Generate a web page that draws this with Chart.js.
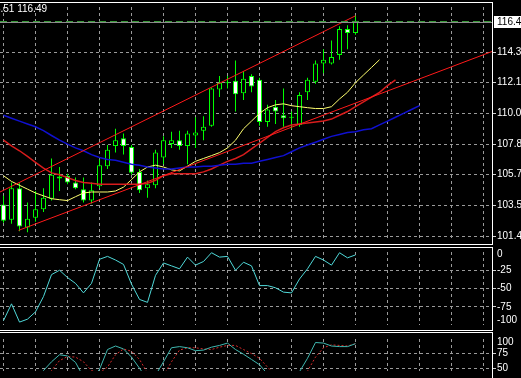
<!DOCTYPE html>
<html>
<head>
<meta charset="utf-8">
<script src="https://cdn.jsdelivr.net/npm/chart.js@4.4.1/dist/chart.umd.min.js"></script>
<style>
    html, body { margin: 0; padding: 0; background: #000; overflow: hidden; }
    #wrap { position: relative; width: 521px; height: 378px; background: #000; }
    canvas { position: absolute; left: 0; display: block; }
</style>
</head>
<body>
<div id="wrap">
    <canvas id="chart-price" width="521" height="245" style="top:0"></canvas>
    <canvas id="chart-wpr" width="521" height="87" style="top:245px"></canvas>
    <canvas id="chart-stoch" width="521" height="46" style="top:332px"></canvas>
</div>
<script>
// H4 candles, oldest first
const opens = [103.62, 102.54, 104.76, 102.00, 102.68, 103.28, 104.02, 105.43, 105.63, 105.16,
    104.69, 103.89, 104.89, 106.30, 107.72, 108.25, 107.65, 105.90, 104.76, 104.96,
    106.91, 107.85, 108.12, 107.72, 108.45, 108.79, 109.13, 111.68, 112.15, 112.28,
    111.41, 112.62, 112.35, 109.40, 110.47, 109.87, 109.73, 109.19, 111.48, 112.22,
    113.49, 113.49, 114.10, 115.91, 115.64];
const highs = [104.22, 105.16, 105.10, 103.75, 104.56, 104.76, 106.84, 106.24, 105.77, 105.50,
    105.50, 105.16, 106.77, 107.78, 108.92, 108.59, 107.78, 106.10, 105.30, 107.45,
    108.39, 108.72, 108.79, 108.79, 109.73, 109.80, 111.81, 112.62, 112.62, 113.70,
    112.96, 112.75, 112.49, 110.60, 110.94, 111.75, 110.13, 111.48, 112.49, 113.70,
    114.50, 115.11, 116.11, 116.18, 116.85];
const lows = [102.34, 102.27, 101.74, 101.67, 102.41, 103.08, 103.89, 104.56, 105.03, 104.69,
    103.75, 103.69, 104.76, 106.10, 107.25, 107.11, 105.70, 104.42, 104.09, 104.76,
    106.44, 107.58, 107.45, 106.44, 107.58, 108.12, 109.06, 111.14, 111.75, 110.13,
    110.94, 111.48, 109.13, 109.06, 109.26, 109.06, 108.92, 109.06, 110.94, 112.08,
    112.82, 113.43, 113.76, 114.50, 115.51];
const closes = [102.47, 104.76, 102.07, 102.61, 103.28, 104.09, 105.70, 105.57, 105.16, 104.76,
    103.89, 104.62, 106.37, 107.45, 108.12, 107.72, 105.83, 104.62, 105.03, 107.25,
    108.12, 108.12, 107.72, 108.59, 108.66, 109.06, 111.75, 112.15, 112.12, 111.34,
    112.42, 111.88, 109.40, 110.27, 110.13, 109.66, 109.70, 111.28, 112.35, 113.49,
    113.76, 113.96, 115.91, 115.64, 116.49];

// moving averages, shifted forward past the last candle
const lipsMa = [105.63, 105.23, 104.96, 104.69, 104.42, 104.22, 104.02, 103.95, 103.89, 104.16,
    104.42, 104.49, 104.49, 104.49, 104.56, 104.83, 105.36, 105.90, 106.24, 106.37,
    106.24, 106.04, 105.97, 106.30, 106.64, 106.84, 107.04, 107.25, 107.58, 108.12,
    108.92, 109.46, 110.00, 110.40, 110.60, 110.67, 110.54, 110.47, 110.40, 110.34,
    110.34, 110.47, 111.01, 111.48, 112.15, 112.69, 113.22, 113.76];
const teethMa = [108.12, 107.72, 107.38, 106.98, 106.57, 106.17, 105.83, 105.70, 105.50, 105.30,
    105.16, 105.10, 105.03, 105.03, 105.03, 105.03, 105.03, 105.03, 105.10, 105.30,
    105.63, 105.77, 105.77, 105.77, 105.77, 105.90, 106.10, 106.37, 106.64, 106.84,
    107.11, 107.51, 107.92, 108.32, 108.72, 108.99, 109.19, 109.26, 109.33, 109.40,
    109.46, 109.60, 109.87, 110.13, 110.47, 110.81, 111.14, 111.48, 111.95, 112.35];
const jawMa = [109.87, 109.66, 109.46, 109.26, 109.06, 108.79, 108.45, 108.12, 107.85, 107.58,
    107.38, 107.11, 106.91, 106.77, 106.71, 106.57, 106.44, 106.37, 106.24, 106.17,
    106.10, 106.10, 106.17, 106.24, 106.24, 106.30, 106.30, 106.37, 106.44, 106.44,
    106.51, 106.51, 106.64, 106.77, 106.91, 107.04, 107.31, 107.58, 107.78, 107.98,
    108.19, 108.39, 108.52, 108.66, 108.72, 108.86, 108.92, 109.19, 109.46, 109.73,
    110.00, 110.27, 110.54];

// trend channel: [bar index, price]
const channelUpper = [[-0.5, 104.47], [44, 116.84]];
const channelLower = [[1.875, 101.80], [61.5, 114.43]];

const wprValues = [-94, -71, -96, -92, -82, -61, -31, -25, -35, -43,
    -56, -43, -10, -6, -11, -17, -44, -65, -69, -32,
    -15, -19, -23, -7, -18, -13, -1, -7, -6, -25,
    -14, -19, -46, -46, -49, -55, -56, -37, -23, -6,
    -11, -18, -1, -8, -4];
const stochMain = [22, 28, 18, 20, 30, 46, 61, 73, 71, 60,
    35, 32, 48, 82, 88, 83, 69, 50, 30, 38,
    61, 85, 87, 85, 80, 81, 86, 89, 93, 82,
    74, 65, 56, 40, 28, 22, 25, 44, 67, 94,
    93, 88, 87, 87, 92];
const stochSignal = [25, 24, 22, 22, 23, 30, 46, 63, 70, 69,
    61, 46, 42, 52, 73, 83, 79, 65, 42, 33,
    38, 61, 81, 85, 85, 83, 82, 86, 89, 89,
    82, 75, 67, 52, 38, 28, 25, 28, 45, 69,
    85, 90, 89, 88, 92];

const priceTicks = [101.40, 103.55, 105.70, 107.85, 110.00, 112.15, 114.30];
const wprTicks = [0, -25, -50, -75, -100];
const stochTicks = [100, 75, 50];

const GRID = "#9a9a9a";
const CANDLE = "#00ff00";
const FONT = { family: "Liberation Sans", size: 10 };
const X_MIN = -0.4375;
const X_MAX = X_MIN + 61.5;

const pts = (arr) => arr.map((v, i) => ({ x: i, y: v }));
const seg = (arr) => arr.map((p) => ({ x: p[0], y: p[1] }));

function xAxis() {
    return {
        type: "linear",
        min: X_MIN,
        max: X_MAX,
        offset: false,
        ticks: { display: false },
        grid: { color: GRID, drawTicks: false, offset: false },
        border: { display: false, dash: [3, 3] },
        afterBuildTicks: (s) => {
            const t = [];
            for (let v = 0; v <= 60; v += 4) t.push({ value: v });
            s.ticks = t;
        },
    };
}

// labels at the panel edges sit a bit inside, like the terminal does
function yAxis(min, max, values, fmt, inset) {
    const hidden = (i) => inset && inset[i] !== undefined;
    return {
        position: "right",
        min: min,
        max: max,
        afterFit: (s) => { s.width = 29; },
        afterBuildTicks: (s) => {
            s.ticks = values.map((v, i) => ({ value: v + (hidden(i) ? inset[i] : 0) }));
        },
        ticks: {
            color: "#fff",
            font: FONT,
            padding: 1,
            autoSkip: false,
            callback: (v, i) => fmt(values[i]),
        },
        grid: {
            color: (c) => (hidden(c.index) ? "transparent" : GRID),
            tickColor: (c) => (hidden(c.index) ? "transparent" : "#d0d0d0"),
            tickLength: 4,
            tickBorderDash: [],
        },
        border: { display: false, dash: [3, 3] },
    };
}

function frame(id, hLines, vLine) {
    return {
        id: id,
        afterDraw(chart) {
            const ctx = chart.ctx;
            const r = chart.chartArea.right;
            ctx.save();
            ctx.fillStyle = "#fff";
            hLines.forEach((y) => ctx.fillRect(0, y, r + 1, 1));
            ctx.fillRect(r, vLine[0], 1, vLine[1] - vLine[0]);
            ctx.restore();
        },
    };
}

const baseOptions = (scales, padding) => ({
    responsive: false,
    animation: false,
    events: [],
    layout: { padding: padding },
    plugins: { legend: { display: false }, tooltip: { enabled: false } },
    scales: scales,
});

const last = closes.length - 1;

const priceMarks = {
    id: "priceMarks",
    afterDatasetsDraw(chart) {
        const ctx = chart.ctx;
        const py = Math.round(chart.scales.y.getPixelForValue(closes[last]));
        const r = chart.chartArea.right;
        ctx.save();
        ctx.fillStyle = "#8c8c8c";
        ctx.fillRect(0, py + 1, r, 1);
        ctx.strokeStyle = "#3a9a3a";
        ctx.lineWidth = 1;
        ctx.setLineDash([7, 4]);
        ctx.beginPath();
        ctx.moveTo(0, py + 0.5);
        ctx.lineTo(r, py + 0.5);
        ctx.stroke();
        ctx.restore();
    },
    afterDraw(chart) {
        const ctx = chart.ctx;
        const py = Math.round(chart.scales.y.getPixelForValue(closes[last]));
        const r = chart.chartArea.right;
        ctx.save();
        ctx.font = FONT.size + "px " + FONT.family;
        ctx.textBaseline = "middle";
        ctx.fillStyle = "#fff";
        ctx.fillRect(r + 2, py - 5, 30, 12);
        ctx.fillStyle = "#000";
        ctx.fillText(closes[last].toFixed(2), r + 5, py + 1);
        // OHLC header, only its tail fits in the window
        const lowTxt = lows[last].toFixed(2);
        ctx.fillStyle = "#fff";
        ctx.fillText(lowTxt + " " + closes[last].toFixed(2), -ctx.measureText(lowTxt.slice(0, 3)).width + 0.5, 9);
        ctx.restore();
    },
};

new Chart(document.getElementById("chart-price"), {
    type: "bar",
    data: {
        datasets: [
            { type: "line", data: seg(channelUpper), borderColor: "#ff1a1a", borderWidth: 1, pointRadius: 0, order: 0 },
            { type: "line", data: seg(channelLower), borderColor: "#ff1a1a", borderWidth: 1, pointRadius: 0, order: 0 },
            { type: "line", data: pts(jawMa), borderColor: "#1010d0", borderWidth: 1.5, pointRadius: 0, order: 0 },
            { type: "line", data: pts(teethMa), borderColor: "#d81c1c", borderWidth: 1.5, pointRadius: 0, order: 0 },
            { type: "line", data: pts(lipsMa), borderColor: "#ffff70", borderWidth: 1, pointRadius: 0, order: 0 },
            {
                type: "bar",
                data: opens.map((o, i) => ({ x: i, y: [Math.min(o, closes[i]), Math.max(o, closes[i])] })),
                backgroundColor: opens.map((o, i) => (closes[i] > o ? "#000" : "#fff")),
                borderColor: CANDLE,
                borderWidth: 1,
                borderSkipped: false,
                barThickness: 5,
                maxBarThickness: 5,
                minBarLength: 1,
                inflateAmount: 0,
                grouped: false,
                order: 1,
            },
            {
                type: "bar",
                data: lows.map((l, i) => ({ x: i, y: [l, highs[i]] })),
                backgroundColor: CANDLE,
                borderWidth: 0,
                barThickness: 1,
                maxBarThickness: 1,
                inflateAmount: 0,
                grouped: false,
                order: 2,
            },
        ],
    },
    options: baseOptions(
        { x: xAxis(), y: yAxis(101.265, 117.457, priceTicks, (v) => v.toFixed(2)) },
        { top: 3, bottom: 1, left: 0, right: 0 }
    ),
    plugins: [priceMarks, frame("frame1", [2, 244], [2, 245])],
});

new Chart(document.getElementById("chart-wpr"), {
    type: "line",
    data: {
        datasets: [
            { data: pts(wprValues), borderColor: "#4fd8d8", borderWidth: 1, pointRadius: 0 },
        ],
    },
    options: baseOptions(
        { x: xAxis(), y: yAxis(-100, 0, wprTicks, (v) => String(v), { 0: -3.6, 4: 7.1 }) },
        { top: 1, bottom: 2, left: 0, right: 0 }
    ),
    plugins: [frame("frame2", [2, 85], [2, 86])],
});

new Chart(document.getElementById("chart-stoch"), {
    type: "line",
    data: {
        datasets: [
            { data: pts(stochMain), borderColor: "#3fb8b0", borderWidth: 1, pointRadius: 0 },
            { data: pts(stochSignal), borderColor: "#d42a2a", borderWidth: 1, borderDash: [2, 2], pointRadius: 0 },
        ],
    },
    options: baseOptions(
        { x: xAxis(), y: yAxis(45.24, 100, stochTicks, (v) => String(v), { 0: -4.8 }) },
        { top: 0, bottom: 0, left: 0, right: 0 }
    ),
    plugins: [frame("frame3", [0], [0, 46])],
});
</script>
</body>
</html>
